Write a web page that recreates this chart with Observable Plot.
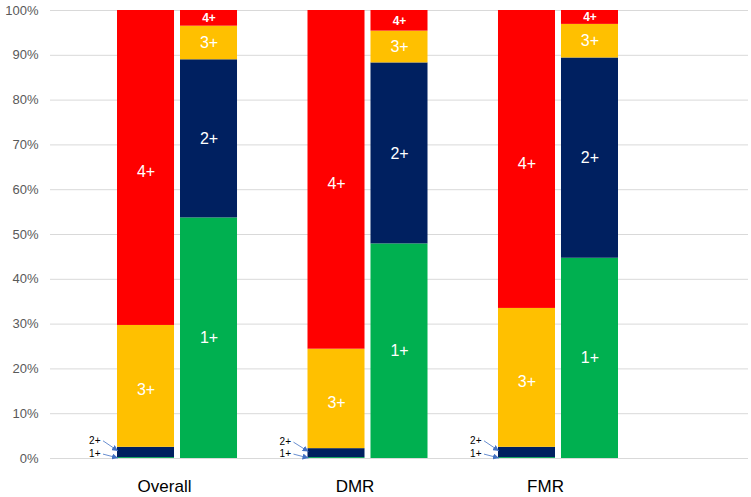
<!DOCTYPE html>
<html>
<head>
<meta charset="utf-8">
<script src="https://cdn.jsdelivr.net/npm/d3@7"></script>
<script src="https://cdn.jsdelivr.net/npm/@observablehq/plot@0.6"></script>
<style>
  body { margin: 0; background: #fff; }
  #chart svg { display: block; }
</style>
</head>
<body>
<div id="chart"></div>
<script>
const groups = ["Overall", "DMR", "FMR"];
const levels = ["1+", "2+", "3+", "4+"];
const colors = ["#00B050", "#002060", "#FFC000", "#FF0000"];
const yTicks = [0, 10, 20, 30, 40, 50, 60, 70, 80, 90, 100];

// percent per level (1+, 2+, 3+, 4+), left bar and right bar of each pair
const overallBefore = [0.2, 2.3, 27.2, 70.3];
const overallAfter = [53.7, 35.3, 7.5, 3.5];
const dmrBefore = [0.2, 2.0, 22.2, 75.6];
const dmrAfter = [47.9, 40.4, 7.1, 4.6];
const fmrBefore = [0.2, 2.3, 31.0, 66.5];
const fmrAfter = [44.7, 44.7, 7.5, 3.1];

const beforeVals = [overallBefore, dmrBefore, fmrBefore];
const afterVals = [overallAfter, dmrAfter, fmrAfter];

const toRows = (vals) => groups.flatMap((g, i) =>
  levels.map((l, j) => ({group: g, level: l, value: vals[i][j]})));
const before = toRows(beforeVals);
const after = toRows(afterVals);

let chart = Plot.plot({
  width: 751,
  height: 497,
  marginTop: 10,
  marginBottom: 39,
  marginLeft: 50,
  marginRight: 3,
  style: {fontFamily: "Liberation Sans", background: "white"},
  x: {domain: groups, range: [117, 618], paddingInner: 0.37, paddingOuter: 0, align: 0, round: false},
  y: {domain: [0, 100]},
  color: {domain: levels, range: colors},
  marks: [
    Plot.ruleY(yTicks, {stroke: "#d9d9d9"}),
    Plot.barY(before, {x: "group", y: "value", fill: "level", insetRight: 63}),
    Plot.barY(after, {x: "group", y: "value", fill: "level", insetLeft: 63}),
    Plot.text(before, Plot.stackY({
      x: "group", y: "value", text: d => d.value >= 3 ? d.level : "",
      fill: "white", dx: -31.5, dy: 4, fontSize: 16
    })),
    Plot.text(after, Plot.stackY({
      x: "group", y: "value", text: d => d.value >= 5 ? d.level : "",
      fill: "white", dx: 31.5, fontSize: 16
    })),
    Plot.text(after, Plot.stackY({
      x: "group", y: "value", text: d => d.value < 5 ? d.level : "",
      fill: "white", dx: 31.5, fontSize: 12, fontWeight: "bold"
    })),
    Plot.text(before, Plot.stackY2({
      x: "group", y: "value", text: d => d.level === "2+" ? d.level : "",
      fill: "black", dx: -77, dy: -7, textAnchor: "end", fontSize: 10
    })),
    Plot.text(before, Plot.stackY2({
      x: "group", y: "value", text: d => d.level === "1+" ? d.level : "",
      fill: "black", dx: -77, dy: -4, textAnchor: "end", fontSize: 10
    })),
    Plot.axisY({ticks: yTicks, tickFormat: d => d + "%", tickSize: 0, tickPadding: 12,
      fontSize: 13, fill: "#595959", label: null}),
    Plot.axisX({tickSize: 0, tickPadding: 21, fontSize: 17, fill: "black", label: null, dx: -13})
  ]
});

// little pointer arrows from the outside "2+" / "1+" labels to the thin segments
const sx = chart.scale("x"), sy = chart.scale("y");
const svg = d3.select(chart);
svg.append("defs").append("marker")
  .attr("id", "ah").attr("viewBox", "0 0 6 6")
  .attr("refX", 6).attr("refY", 3)
  .attr("markerWidth", 6).attr("markerHeight", 6)
  .attr("markerUnits", "userSpaceOnUse").attr("orient", "auto")
  .append("path").attr("d", "M0,0L6,3L0,6z").attr("fill", "#4472C4");
const arrows = svg.append("g");
groups.forEach((g, i) => {
  const v = beforeVals[i];
  const left = sx.apply(g);
  const pts = [
    [left - 14, sy.apply(v[0] + v[1]) - 6, left + 1, sy.apply(v[0] + v[1] / 2) - 1],
    [left - 14, sy.apply(v[0]) - 3, left + 1, sy.apply(0)]
  ];
  pts.forEach(p => arrows.append("line")
    .attr("x1", p[0]).attr("y1", p[1]).attr("x2", p[2]).attr("y2", p[3])
    .attr("stroke", "#4472C4").attr("stroke-width", 0.8)
    .attr("marker-end", "url(#ah)"));
});

d3.select('#chart').append(() => chart);
</script>
</body>
</html>
